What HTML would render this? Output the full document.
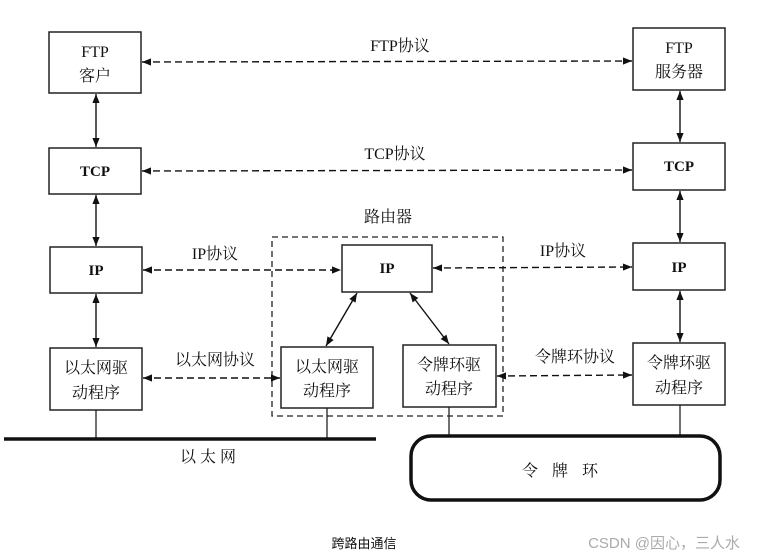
<!DOCTYPE html>
<html><head><meta charset="utf-8"><style>
html,body{margin:0;padding:0;background:#fff;}
svg{display:block;}
text{font-family:"Liberation Serif","Noto Serif CJK SC","Noto Sans CJK SC",serif;fill:#111;}
</style></head><body>
<svg width="757" height="557" viewBox="0 0 757 557" xmlns="http://www.w3.org/2000/svg">
<defs>
<marker id="a" viewBox="0 0 10 10" refX="10" refY="5" markerWidth="12" markerHeight="9" orient="auto-start-reverse" markerUnits="userSpaceOnUse"><path d="M0,1 L10,5 L0,9 z" fill="#111"/></marker>
</defs>
<g fill="#fff" stroke="#222" stroke-width="1.5">
<rect x="49" y="32" width="92" height="61"/>
<rect x="49" y="148" width="92" height="46"/>
<rect x="50" y="247" width="92" height="46"/>
<rect x="50" y="348" width="92" height="62"/>
<rect x="633" y="28" width="92" height="62"/>
<rect x="633" y="143" width="92" height="47"/>
<rect x="633" y="243" width="92" height="47"/>
<rect x="633" y="343" width="92" height="62"/>
<rect x="342" y="245" width="90" height="47"/>
<rect x="281" y="347" width="92" height="61"/>
<rect x="403" y="345" width="93" height="62"/>
</g>
<rect x="272" y="237" width="231" height="179" fill="none" stroke="#222" stroke-width="1.3" stroke-dasharray="6,4"/>
<g stroke="#222" stroke-width="1.3">
<line x1="96" y1="410" x2="96" y2="439"/>
<line x1="327" y1="408" x2="327" y2="439"/>
<line x1="449" y1="407" x2="449" y2="436"/>
<line x1="680" y1="405" x2="680" y2="436"/>
</g>
<line x1="4" y1="439" x2="376" y2="439" stroke="#111" stroke-width="3.5"/>
<rect x="411" y="436" width="309" height="64" rx="20" fill="none" stroke="#111" stroke-width="3.5"/>
<g stroke="#111" stroke-width="1.4" marker-start="url(#a)" marker-end="url(#a)">
<line x1="96" y1="94" x2="96" y2="147"/>
<line x1="96" y1="195" x2="96" y2="246"/>
<line x1="96" y1="294" x2="96" y2="347"/>
<line x1="680" y1="91" x2="680" y2="142"/>
<line x1="680" y1="191" x2="680" y2="242"/>
<line x1="680" y1="291" x2="680" y2="342"/>
<line x1="357" y1="293" x2="326" y2="346"/>
<line x1="410" y1="293" x2="449" y2="344"/>
</g>
<g stroke="#111" stroke-width="1.4" stroke-dasharray="7,4" marker-start="url(#a)" marker-end="url(#a)">
<line x1="142" y1="62" x2="632" y2="61"/>
<line x1="142" y1="171" x2="632" y2="170"/>
<line x1="143" y1="270" x2="341" y2="270"/>
<line x1="433" y1="268" x2="632" y2="267"/>
<line x1="143" y1="378" x2="280" y2="378"/>
<line x1="497" y1="376" x2="632" y2="375"/>
</g>
<g font-size="16" text-anchor="middle">
<text x="95" y="57">FTP</text><text x="95" y="81">客户</text>
<text x="95" y="176" font-weight="bold" font-size="15">TCP</text>
<text x="96" y="275" font-weight="bold" font-size="15">IP</text>
<text x="96" y="373">以太网驱</text><text x="96" y="398">动程序</text>
<text x="679" y="53">FTP</text><text x="679" y="77">服务器</text>
<text x="679" y="171" font-weight="bold" font-size="15">TCP</text>
<text x="679" y="272" font-weight="bold" font-size="15">IP</text>
<text x="679" y="368">令牌环驱</text><text x="679" y="393">动程序</text>
<text x="387" y="273" font-weight="bold" font-size="15">IP</text>
<text x="327" y="372">以太网驱</text><text x="327" y="396">动程序</text>
<text x="449" y="370">令牌环驱</text><text x="449" y="394">动程序</text>
<text x="400" y="51">FTP协议</text>
<text x="395" y="159">TCP协议</text>
<text x="388" y="222">路由器</text>
<text x="215" y="259">IP协议</text>
<text x="563" y="256">IP协议</text>
<text x="215" y="365">以太网协议</text>
<text x="575" y="362">令牌环协议</text>
<text x="210" y="462" letter-spacing="4">以太网</text>
<text x="567" y="476" letter-spacing="14">令牌环</text>
</g>
<text x="364" y="548" font-size="13" text-anchor="middle" style="font-family:'Liberation Sans','Noto Sans CJK SC',sans-serif">跨路由通信</text>
<text x="740" y="548" font-size="15" text-anchor="end" style="fill:#aaa;font-family:'Liberation Sans','Noto Sans CJK SC',sans-serif">CSDN @因心，三人水</text>
</svg>
</body></html>
